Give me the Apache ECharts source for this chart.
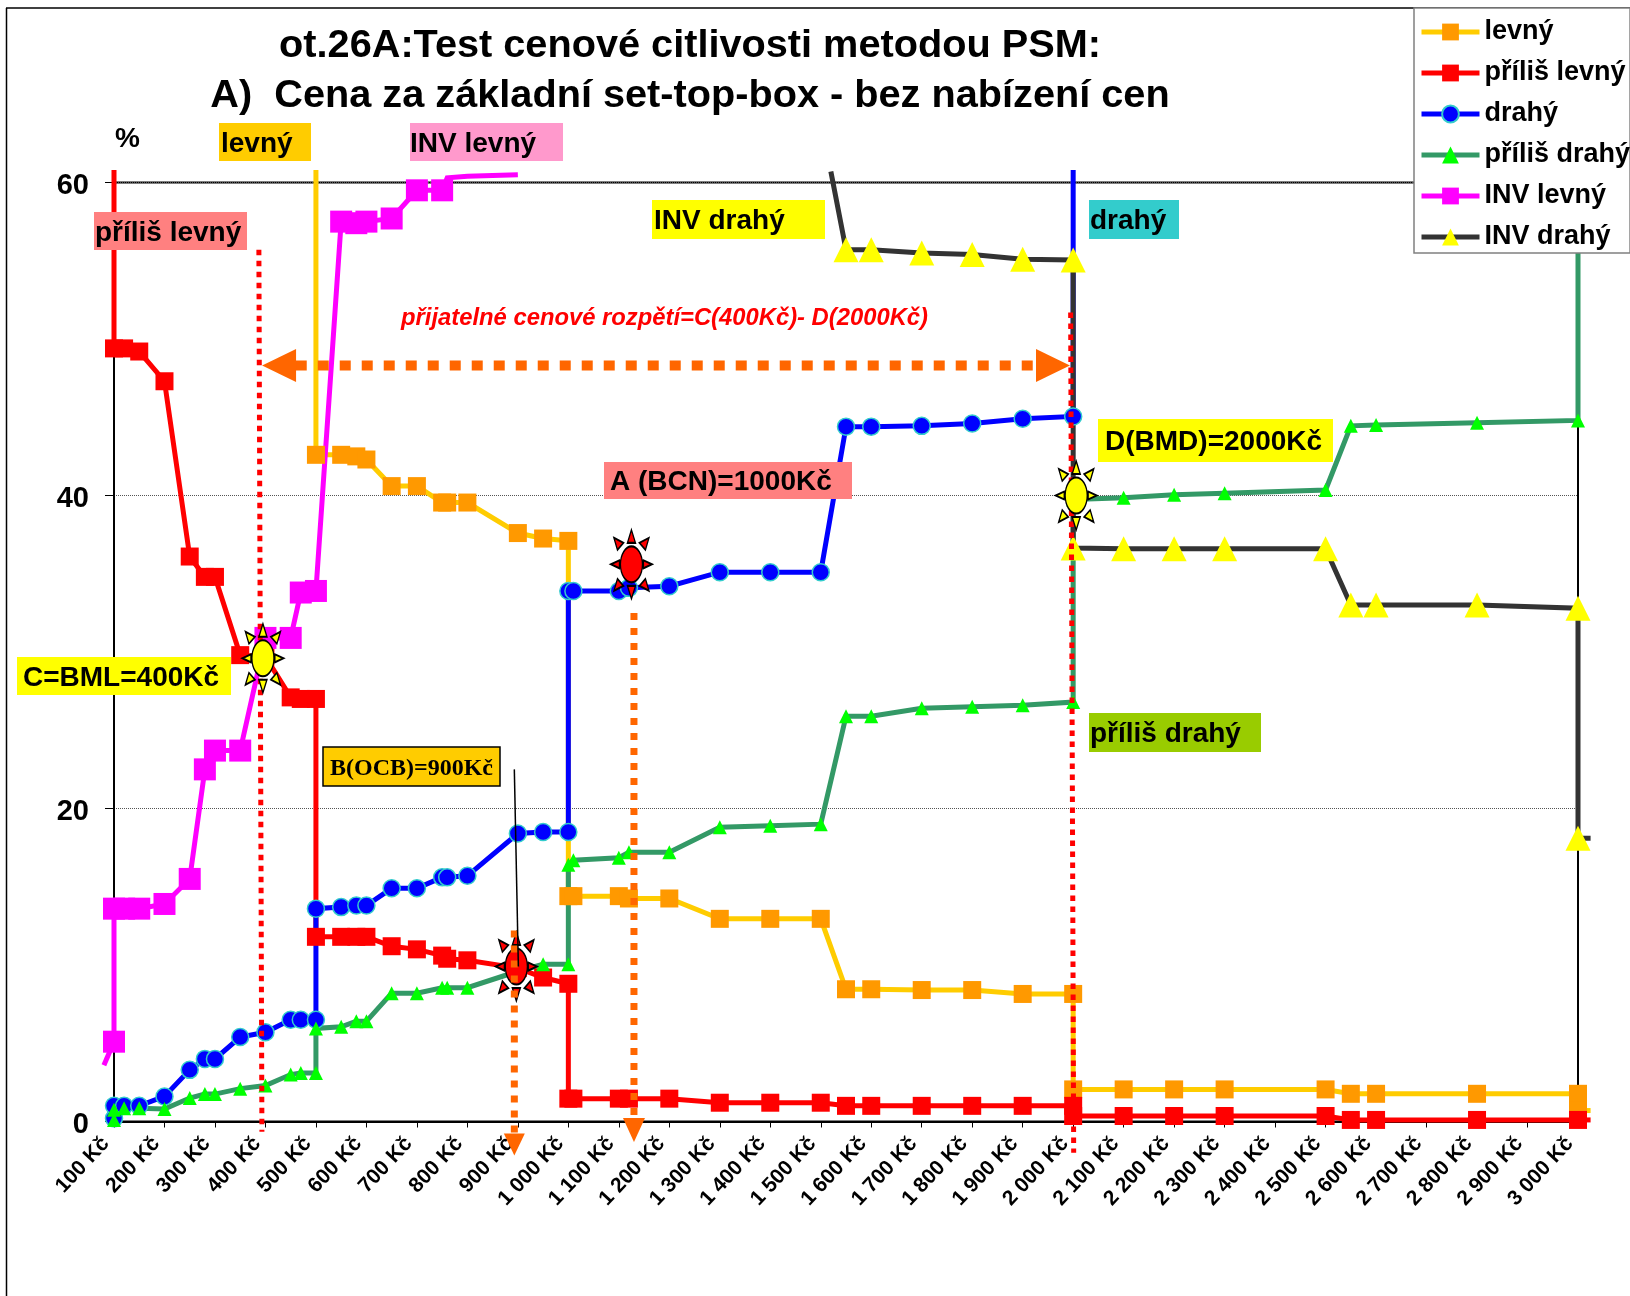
<!DOCTYPE html>
<html><head><meta charset="utf-8">
<style>html,body{margin:0;padding:0;background:#fff}#c{width:1630px;height:1296px}</style>
<script src="https://cdn.jsdelivr.net/npm/echarts@6/dist/echarts.min.js"></script>
</head><body><div id="c"></div>
<script>
const tickLabels = ["100 Kč","200 Kč","300 Kč","400 Kč","500 Kč","600 Kč","700 Kč","800 Kč","900 Kč","1 000 Kč","1 100 Kč","1 200 Kč","1 300 Kč","1 400 Kč","1 500 Kč","1 600 Kč","1 700 Kč","1 800 Kč","1 900 Kč","2 000 Kč","2 100 Kč","2 200 Kč","2 300 Kč","2 400 Kč","2 500 Kč","2 600 Kč","2 700 Kč","2 800 Kč","2 900 Kč","3 000 Kč"];
const lowX  = [100,120,150,200,250,280,300,350,400,450,470,500];
const midX  = [550,580,600,650,700,750,760,800,900,950,1000];
const highX = [1010,1100,1120,1200,1300,1400,1500,1550,1600,1700,1800,1900,2000];
const topX  = [2100,2200,2300,2500,2550,2600,2800,3000];

const levnyX = [500,500,...midX,1000,...highX,2000,...topX,3000];
const levnyY = [60.8,42.6, 42.6,42.5,42.3,40.6,40.6,39.55,39.55,39.55,37.6,37.25,37.1, 14.4, 14.4,14.4,14.25,14.25,12.95,12.95,12.95,8.45,8.45,8.4,8.4,8.15,8.15, 2.05, 2.05,2.05,2.05,2.05,1.77,1.77,1.77,1.77, 0.7];
const prilisLevnyX = [100,...lowX,500,...midX,1000,...highX,2000,...topX];
const prilisLevnyY = [60.8, 49.4,49.4,49.2,47.3,36.1,34.8,34.8,29.8,29.7,27.1,27.0,27.0, 11.8, 11.8,11.8,11.8,11.2,11.0,10.6,10.4,10.3,9.8,9.2,8.8, 1.46, 1.46,1.46,1.46,1.46,1.2,1.2,1.2,1.0,1.0,1.0,1.0,1.0,1.0, 0.35, 0.35,0.35,0.35,0.35,0.1,0.1,0.1,0.1];
const drahyX = [100,...lowX,500,...midX,1000,...highX,2000];
const drahyY = [0.2, 1.0,1.0,1.0,1.6,3.3,4.0,4.0,5.4,5.7,6.5,6.5,6.5, 13.6, 13.7,13.8,13.8,14.9,14.9,15.6,15.6,15.7,18.4,18.5,18.5, 33.9, 33.9,33.9,34.1,34.2,35.1,35.1,35.1,44.4,44.4,44.45,44.6,44.9,45.05, 60.8];
const prilisDrahyX = [100,...lowX,500,...midX,1000,...highX,2000,...topX,3000];
const prilisDrahyY = [0.1, 0.75,0.85,0.85,0.8,1.5,1.75,1.75,2.1,2.3,3.0,3.1,3.1, 5.95, 6.05,6.4,6.4,8.2,8.2,8.55,8.55,8.55,9.6,10.05,10.05, 16.4, 16.7,16.85,17.2,17.2,18.8,18.9,19.0,25.9,25.9,26.4,26.5,26.6,26.8, 39.75, 39.85,40.05,40.15,40.35,44.45,44.5,44.65,44.8, 60.8];
const invLevnyX = [100,...lowX,...midX.slice(0,9)];
const invLevnyY = [5.1, 13.6,13.6,13.6,13.9,15.5,22.5,23.7,23.7,30.9,30.9,33.8,33.9, 57.5,57.4,57.5,57.7,59.5,59.5,60.3,60.4,60.5];
const invDrahyX = [1520,1550,1600,1700,1800,1900,2000,2000,...topX,3000];
const invDrahyY = [60.7,55.7,55.7,55.5,55.4,55.1,55.05,36.65, 36.6,36.6,36.6,36.6,33.0,33.0,33.0,32.8, 18.1];

const levnyTail       = [[3000,0.7],[3025,0.7]];
const prilisLevnyTail = [[3000,0.1],[3025,0.1]];
const invDrahyTail    = [[3000,18.1],[3025,18.1]];
const invLevnyLead    = [[80,3.6],[100,5.1]];

const redGuideLow  = [[387,55.7],[393,-0.65]];
const redGuideHigh = [[1995,51.7],[2001,-2]];
const bandLine     = [[460,48.3],[1928,48.3]];
const ocbGuide     = [[893,12.2],[893,-0.75]];
const bcnGuide     = [[1130,32.5],[1130,0.2]];
const ocbPointer   = [[893,22.5],[901,9.9]];
const yellowSuns   = [[395,29.6],[2006,40.0]];
const redSuns      = [[1125,35.6],[897,9.9]];

const FONT = '"Liberation Sans", Arial, sans-serif';
const sun = 'path://M9.5 34.5a11 18 0 1 0 22 0a11 18 0 1 0 -22 0zM20.5 0L24.5 13L16.5 13zM20.5 69L16.5 56L24.5 56zM0 34.5L8.5 30.5L8.5 38.5zM41 34.5L32.5 38.5L32.5 30.5zM3 8L12.5 13L6.5 20zM38 8L34.5 20L28.5 13zM3 61L6.5 49L12.5 56zM38 61L28.5 56L34.5 49z';

function pts(xs, ys){
  return xs.map((x,i)=> ys[i] > 60 ? {value:[x,ys[i]],symbol:'none'} : {value:[x,ys[i]]});
}
function curve(name,xs,ys,lineColor,symbol,size,fill,extra){
  return {name,type:'line',clip:false,data:pts(xs,ys),symbol,symbolSize:size,showSymbol:true,showAllSymbol:true,
    lineStyle:{color:lineColor,width:5,cap:'butt',join:'miter'},
    itemStyle:Object.assign({color:fill,opacity:1},extra||{}),
    emphasis:{disabled:true},animation:false,z:3};
}
function guide(data,color,width,dash,z){
  return {type:'line',clip:false,data,symbol:'none',silent:true,z,animation:false,
    lineStyle:{color,width,type:dash,cap:'butt'},itemStyle:{color}};
}
function stub(data,color){
  return {type:'line',clip:false,xAxisIndex:1,yAxisIndex:1,data,symbol:'none',silent:true,z:2,animation:false,
    lineStyle:{color,width:5,cap:'butt'},itemStyle:{color}};
}
function head(x,y,rot,size){
  return {type:'scatter',clip:false,data:[[x,y]],symbol:'triangle',symbolSize:size,symbolRotate:rot,silent:true,z:12,animation:false,itemStyle:{color:'#FF6600',opacity:1}};
}
function suns(data,color){
  return {type:'scatter',clip:false,data,symbol:sun,symbolSize:[41,69],silent:true,z:10,animation:false,
    itemStyle:{color,opacity:1,borderColor:'#000',borderWidth:1.6}};
}
const notes = [
  ['levný',219,123,92,38,'#FFCC00',221],
  ['INV levný',410,123,153,38,'#FF99CC',410],
  ['příliš levný',94,212,153,38,'#FF8080',95],
  ['INV drahý',652,200,173,39,'#FFFF00',654],
  ['drahý',1089,200,90,39,'#33CCCC',1090],
  ['D(BMD)=2000Kč',1098,419,235,43,'#FFFF00',1105],
  ['A (BCN)=1000Kč',604,462,248,37,'#FF8080',610],
  ['C=BML=400Kč',17,657,214,38,'#FFFF00',23],
  ['příliš drahý',1089,713,172,39,'#99CC00',1090]
];
const graphics = [
  {type:'line',z:1,shape:{x1:6.5,y1:8,x2:6.5,y2:1296},style:{stroke:'#000',lineWidth:1.5}},
  {type:'line',z:1,shape:{x1:6,y1:8,x2:1630,y2:8},style:{stroke:'#000',lineWidth:1.5}},
  {type:'text',z:50,x:115,y:139,style:{text:'%',font:'bold 28px '+FONT,fill:'#000',textVerticalAlign:'middle'}},
  {type:'text',z:50,x:401,y:318,style:{text:'přijatelné cenové rozpětí=C(400Kč)- D(2000Kč)',font:'italic bold 23.8px '+FONT,fill:'#FF0000',textVerticalAlign:'middle'}},
  {type:'rect',z:50,shape:{x:323,y:747,width:177,height:39},style:{fill:'#FFCC00',stroke:'#000',lineWidth:1.5}},
  {type:'text',z:51,x:330,y:769,style:{text:'B(OCB)=900Kč',font:'bold 24px "Liberation Serif", serif',fill:'#000',textVerticalAlign:'middle'}}
];
notes.forEach(n=>{
  graphics.push({type:'rect',z:50,shape:{x:n[1],y:n[2],width:n[3],height:n[4]},style:{fill:n[5]}});
  graphics.push({type:'text',z:51,x:n[6],y:n[2]+n[4]/2+2,style:{text:n[0],font:'bold 28px '+FONT,fill:'#000',textVerticalAlign:'middle'}});
});

const chart = echarts.init(document.getElementById('c'),null,{renderer:'canvas'});
chart.setOption({
  backgroundColor:'#fff',
  animation:false,
  title:{text:'ot.26A:Test cenové citlivosti metodou PSM:\nA)  Cena za základní set-top-box - bez nabízení cen',
    left:685,top:16,textAlign:'center',
    textStyle:{fontFamily:FONT,fontWeight:'bold',fontSize:39.7,lineHeight:50,color:'#000'}},
  legend:{orient:'vertical',left:1414,top:8,padding:[10.5,0,2.5,5],itemWidth:58,itemHeight:21,itemGap:14,
    backgroundColor:'#fff',borderColor:'#808080',borderWidth:1.5,z:20,selectedMode:false,
    lineStyle:{width:5},
    data:['levný','příliš levný','drahý','příliš drahý','INV levný','INV drahý'],
    textStyle:{fontFamily:FONT,fontWeight:'bold',fontSize:27,color:'#000'}},
  grid:[
    {left:114,right:52,top:182.5,bottom:174.5,show:true,borderColor:'#000',borderWidth:2,backgroundColor:'transparent'},
    {left:103.9,right:39.4,top:182.5,bottom:174.5,show:false}
  ],
  xAxis:[{type:'value',min:100,max:3000,interval:100,
    axisLine:{show:true,onZero:false,lineStyle:{color:'#000',width:2}},
    axisTick:{show:true,length:6,lineStyle:{color:'#000',width:1}},
    splitLine:{show:false},
    axisLabel:{rotate:47,margin:10,padding:[0,12,0,0],interval:0,hideOverlap:false,showMinLabel:true,showMaxLabel:true,fontFamily:FONT,fontWeight:'bold',fontSize:21,color:'#000',
      formatter:v=>tickLabels[Math.round((v-100)/100)]}},
    {type:'value',gridIndex:1,min:80,max:3025,show:false,splitLine:{show:false}}],
  yAxis:[{type:'value',min:0,max:60,interval:20,
    axisLine:{show:true,lineStyle:{color:'#000',width:2}},
    axisTick:{show:true,length:9,lineStyle:{color:'#000',width:1}},
    splitLine:{show:true,lineStyle:{color:'#555',width:1,type:[1,1]}},
    axisLabel:{margin:25,color:'#000',formatter:'{a|{value}}',
      rich:{a:{fontFamily:FONT,fontWeight:'bold',fontSize:29,color:'#000',lineHeight:35,verticalAlign:'bottom'}}}},
    {type:'value',gridIndex:1,min:0,max:60,show:false,splitLine:{show:false}}],
  series:[
    stub(levnyTail,'#FFCC00'),
    stub(prilisLevnyTail,'#FF0000'),
    stub(invLevnyLead,'#FF00FF'),
    stub(invDrahyTail,'#333333'),
    curve('levný',levnyX,levnyY,'#FFCC00','rect',18,'#FF9900'),
    curve('příliš levný',prilisLevnyX,prilisLevnyY,'#FF0000','rect',18,'#FF0000'),
    curve('drahý',drahyX,drahyY,'#0000FF','circle',17,'#0000FF',{borderColor:'#33CCCC',borderWidth:1.5}),
    curve('příliš drahý',prilisDrahyX,prilisDrahyY,'#339966','triangle',14,'#00FF00'),
    curve('INV levný',invLevnyX,invLevnyY,'#FF00FF','rect',22,'#FF00FF'),
    curve('INV drahý',invDrahyX,invDrahyY,'#333333','triangle',25,'#FFFF00'),
    guide(redGuideLow,'#FF0000',5,[5.5,5.5],8),
    guide(redGuideHigh,'#FF0000',5,[5.5,5.5],8),
    suns(yellowSuns,'#FFFF00'),
    suns(redSuns,'#FF0000'),
    guide(bandLine,'#FF6600',10,[11,11],11),
    guide(ocbGuide,'#FF6600',7,[7,8],11),
    guide(bcnGuide,'#FF6600',7,[7,8],11),
    guide(ocbPointer,'#000000',1.5,'solid',13),
    head(427,48.3,90,[33,34]),
    head(1960,48.3,-90,[33,34]),
    head(893,-1.47,180,[21,22]),
    head(1130,-0.55,180,[22,24])
  ],
  graphic:{elements:graphics}
});
</script></body></html>
